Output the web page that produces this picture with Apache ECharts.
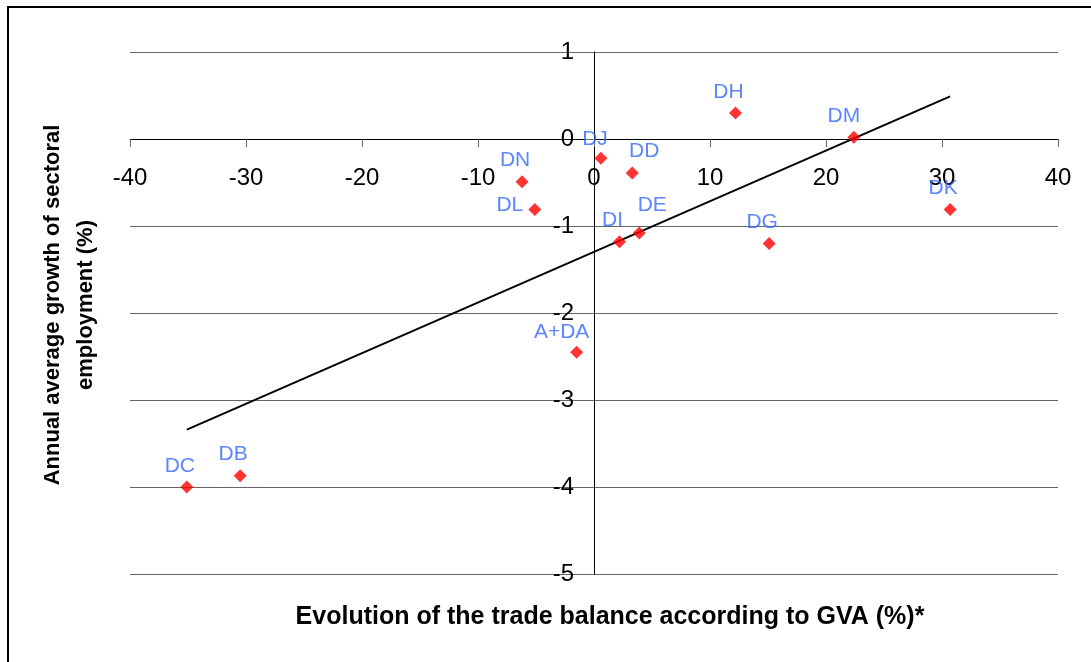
<!DOCTYPE html>
<html>
<head>
<meta charset="utf-8">
<script src="https://cdn.jsdelivr.net/npm/echarts@6/dist/echarts.min.js"></script>
<style>
html,body{margin:0;padding:0;background:#fff;}
#chart{width:1091px;height:662px;}
</style>
</head>
<body>
<div id="chart"></div>
<script>
// Data
const sectors = ['DC', 'DB', 'A+DA', 'DI', 'DE', 'DL', 'DN', 'DJ', 'DD', 'DH', 'DM', 'DG', 'DK'];
const tradeBalance = [-35.1, -30.5, -1.5, 2.2, 3.9, -5.1, -6.2, 0.6, 3.3, 12.2, 22.4, 15.1, 30.7];
const employmentGrowth = [-4.0, -3.87, -2.45, -1.18, -1.08, -0.81, -0.49, -0.22, -0.39, 0.30, 0.02, -1.20, -0.81];
const trendX = [-35.1, 30.7];
const trendY = [-3.34, 0.49];
const xRange = [-40, 40, 10];   // min, max, interval
const yRange = [-5, 1, 1];
const xTitle = 'Evolution of the trade balance according to GVA (%)*';
const yTitle = 'Annual average growth of sectoral\nemployment (%)';

// Label placement (style only)
const defaultOffset = [-7, -21];
const labelOffsets = {
  'DD': [12, -22],
  'DL': [-25, -4],
  'DE': [13, -28],
  'A+DA': [-15, -20],
  'DJ': [-6, -19],
  'DM': [-10, -21]
};

const FONT = 'Liberation Sans, Arial, sans-serif';
const G = { left: 130, right: 33, top: 52, bottom: 88 };
const W = 1091, H = 662;
const gridW = W - G.left - G.right, gridH = H - G.top - G.bottom;
// axes cross at the origin: shift each axis from the grid edge to the zero line
const xAxisOffset = -gridH * (0 - yRange[0]) / (yRange[1] - yRange[0]);
const yAxisOffset = -gridW * (0 - xRange[0]) / (xRange[1] - xRange[0]);

const scatterData = sectors.map((n, i) => ({
  name: n,
  value: [tradeBalance[i], employmentGrowth[i]],
  label: { offset: labelOffsets[n] || defaultOffset }
}));
const trendData = trendX.map((x, i) => [x, trendY[i]]);

const chart = echarts.init(document.getElementById('chart'), null, { renderer: 'canvas' });
chart.setOption({
  animation: false,
  backgroundColor: '#fff',
  grid: { left: G.left, right: G.right, top: G.top, bottom: G.bottom, containLabel: false },
  xAxis: {
    type: 'value', min: xRange[0], max: xRange[1], interval: xRange[2],
    position: 'bottom', offset: xAxisOffset,
    axisLine: { show: true, onZero: false, lineStyle: { color: '#000', width: 1 } },
    axisTick: { show: true, length: 8, lineStyle: { color: '#666' } },
    axisLabel: { margin: 27, fontSize: 24, color: '#000', fontFamily: FONT },
    splitLine: { show: false }
  },
  yAxis: {
    type: 'value', min: yRange[0], max: yRange[1], interval: yRange[2],
    position: 'left', offset: yAxisOffset,
    axisLine: { show: true, onZero: false, lineStyle: { color: '#000', width: 1 } },
    axisTick: { show: true, length: 8, lineStyle: { color: '#666' } },
    axisLabel: { margin: 20, fontSize: 24, color: '#000', fontFamily: FONT },
    splitLine: { show: true, lineStyle: { color: '#666', width: 1 } }
  },
  series: [
    {
      type: 'line',
      data: trendData,
      symbol: 'none',
      lineStyle: { color: '#000', width: 2 },
      z: 2,
      silent: true
    },
    {
      type: 'scatter',
      data: scatterData,
      symbol: 'diamond',
      symbolSize: 13,
      itemStyle: { color: '#FF0000' },
      z: 3,
      label: {
        show: true,
        formatter: '{b}',
        position: 'inside',
        color: '#3366FF',
        fontSize: 21,
        fontFamily: FONT
      }
    }
  ],
  graphic: [
    {
      type: 'rect',
      shape: { x: 8, y: 7, width: 1200, height: 800 },
      style: { fill: 'none', stroke: '#000', lineWidth: 2 },
      silent: true
    },
    {
      type: 'text',
      x: 610, y: 617,
      style: {
        text: xTitle, align: 'center', verticalAlign: 'middle',
        font: 'bold 25px ' + FONT, fill: '#000'
      }
    },
    {
      type: 'text',
      x: 69, y: 305,
      rotation: Math.PI / 2,
      style: {
        text: yTitle, align: 'center', verticalAlign: 'middle',
        font: 'bold 22px ' + FONT, lineHeight: 33, fill: '#000'
      }
    }
  ]
});
</script>
</body>
</html>
